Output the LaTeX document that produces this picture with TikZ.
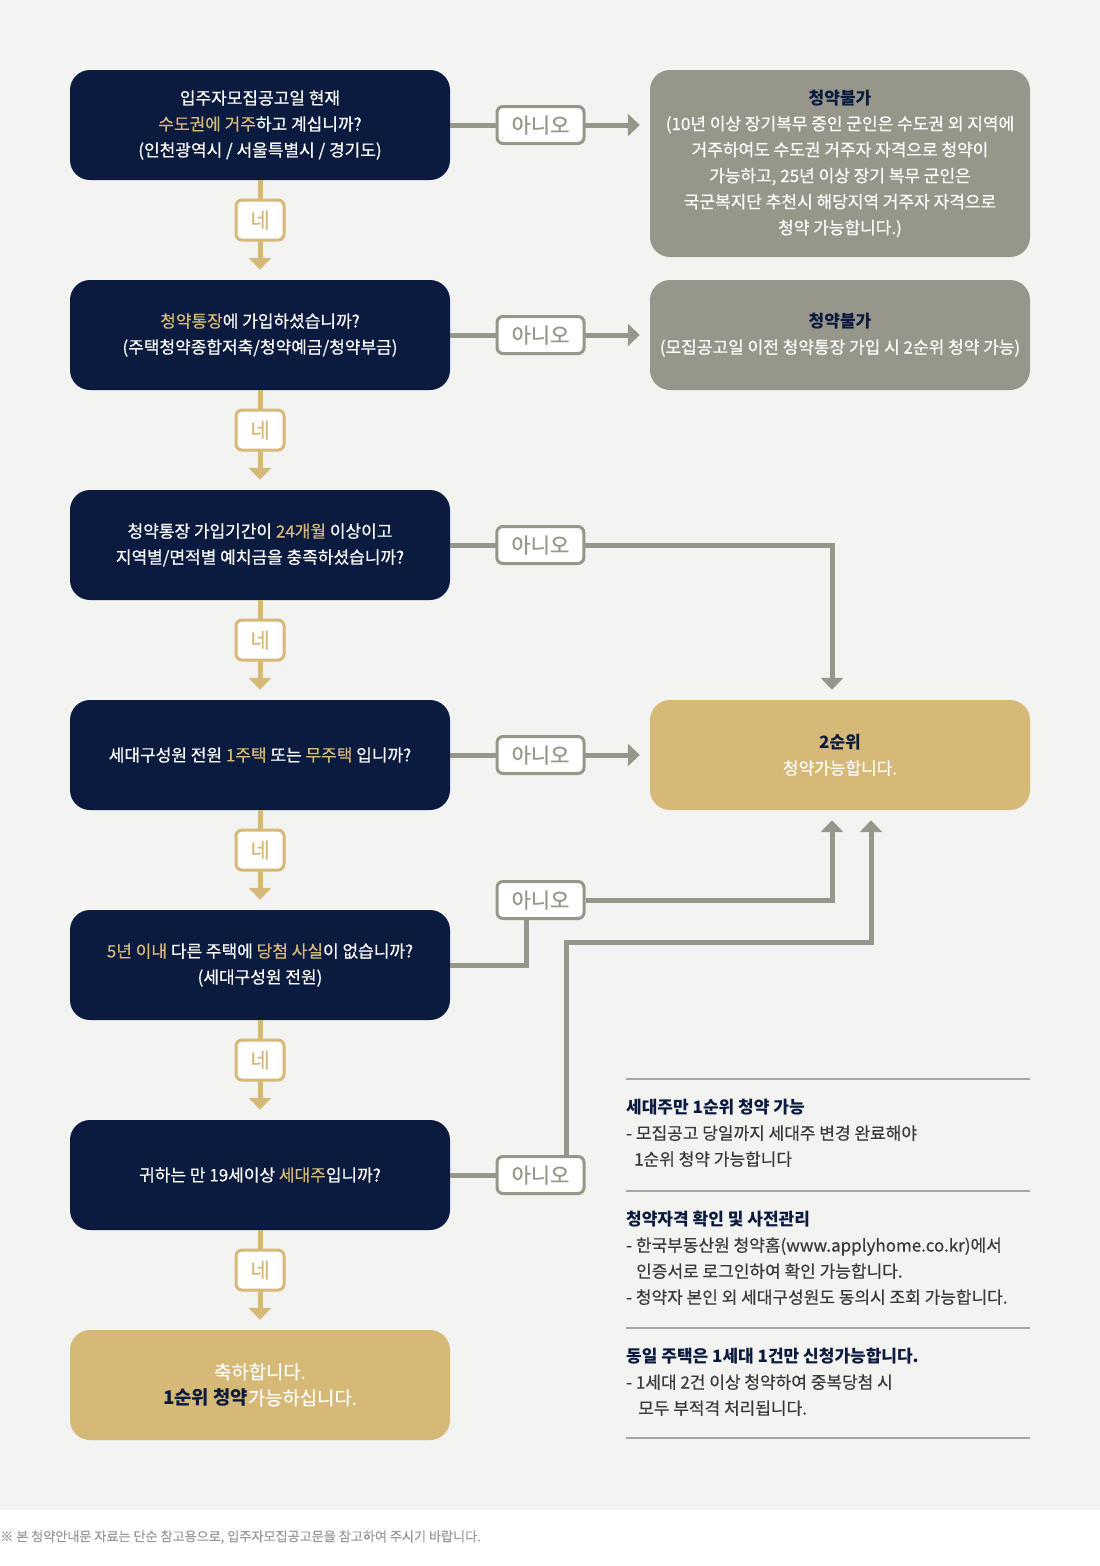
\documentclass[tikz,border=0pt]{standalone}
\usepackage{fontspec}
\setmainfont{Noto Sans CJK KR}[UprightFeatures={FakeBold=0.5}]
\usepackage{tikz}
\usetikzlibrary{arrows.meta,positioning}
\definecolor{navy}{HTML}{0B1A3F}
\definecolor{gold}{HTML}{D6B877}
\definecolor{stone}{HTML}{96968B}
\definecolor{paper}{HTML}{F3F3F1}
\definecolor{ink}{HTML}{3A3A3A}
\definecolor{rule}{HTML}{A6A6A2}
\newcommand{\gd}[1]{\textcolor{gold}{#1}}
\newcommand{\nv}[1]{\textcolor{navy}{\bfseries #1}}
\newcommand{\qfont}{\fontsize{17}{26}\selectfont}
\tikzset{
	qstate/.style={rectangle, rounded corners=20pt, fill=navy, text=white, minimum width=380pt, minimum height=110pt, inner sep=0pt, align=center, font=\qfont},
	gstate/.style={rectangle, rounded corners=20pt, fill=stone, text=white, minimum width=380pt, inner sep=0pt, align=center, font=\qfont},
	okstate/.style={rectangle, rounded corners=20pt, fill=gold, text=white, minimum width=380pt, minimum height=110pt, inner sep=0pt, align=center, font=\qfont},
	yesbox/.style={draw=gold, line width=3pt, fill=white, rounded corners=6pt, minimum width=48pt, minimum height=40pt, inner sep=0pt, text=gold, font=\fontsize{21}{24}\selectfont},
	nobox/.style={draw=stone, line width=3pt, fill=white, rounded corners=6pt, minimum width=87pt, minimum height=37pt, inner sep=0pt, text=stone, font=\fontsize{21}{24}\selectfont},
	yestrans/.style={draw=gold, line width=5pt, -{Triangle[width=22pt,length=12pt]}, shorten >=10pt},
	notrans/.style={draw=stone, line width=5pt, -{Triangle[width=22pt,length=12pt]}, shorten >=10pt},
	noline/.style={draw=stone, line width=5pt},
	note/.style={anchor=west, inner sep=0pt, align=left, text=ink, font=\fontsize{17}{26}\selectfont},
}

\begin{document}
\begin{tikzpicture}[x=1pt,y=-1pt]
		\newcommand{\leftcol}{260}
		\newcommand{\rightcol}{840}
		\newcommand{\notecol}{626}
		\useasboundingbox (0,0) rectangle (1100,1566);
		\fill[paper] (0,0) rectangle (1100,1510);
		\fill[white] (0,1510) rectangle (1100,1566);

		% questions
		\node [qstate] (q1) at (\leftcol,125) {입주자모집공고일 현재\\\gd{수도권에 거주}하고 계십니까?\\(인천광역시 / 서울특별시 / 경기도)};
		\node [qstate] (q2) at (\leftcol,335) {\gd{청약통장}에 가입하셨습니까?\\(주택청약종합저축/청약예금/청약부금)};
		\node [qstate] (q3) at (\leftcol,545) {청약통장 가입기간이 \gd{24개월} 이상이고\\지역별/면적별 예치금을 충족하셨습니까?};
		\node [qstate] (q4) at (\leftcol,755) {세대구성원 전원 \gd{1주택} 또는 \gd{무주택} 입니까?};
		\node [qstate] (q5) at (\leftcol,965) {\gd{5년 이내} 다른 주택에 \gd{당첨 사실}이 없습니까?\\(세대구성원 전원)};
		\node [qstate] (q6) at (\leftcol,1175) {귀하는 만 19세이상 \gd{세대주}입니까?};
		\node [okstate, font=\fontsize{18.8}{26}\selectfont] (first) at (\leftcol,1385) {축하합니다.\\\nv{1순위 청약}가능하십니다.};

		% results
		\node [gstate, minimum height=187pt] (r0) at (\rightcol,163.5) {\nv{청약불가}\\(10년 이상 장기복무 중인 군인은 수도권 외 지역에\\거주하여도 수도권 거주자 자격으로 청약이\\가능하고, 25년 이상 장기 복무 군인은\\국군복지단 추천시 해당지역 거주자 자격으로\\청약 가능합니다.)};
		\node [gstate, minimum height=110pt] (r1) at (\rightcol,335) {\nv{청약불가}\\(모집공고일 이전 청약통장 가입 시 2순위 청약 가능)};
		\node [okstate] (r2) at (\rightcol,755) {\nv{2순위}\\청약가능합니다.};

		% yes
		\draw [yestrans] (q1.south) -- node [yesbox, pos=.4] {네} (q2.north);
		\draw [yestrans] (q2.south) -- node [yesbox, pos=.4] {네} (q3.north);
		\draw [yestrans] (q3.south) -- node [yesbox, pos=.4] {네} (q4.north);
		\draw [yestrans] (q4.south) -- node [yesbox, pos=.4] {네} (q5.north);
		\draw [yestrans] (q5.south) -- node [yesbox, pos=.4] {네} (q6.north);
		\draw [yestrans] (q6.south) -- node [yesbox, pos=.4] {네} (first.north);

		% no
		\draw [notrans] (q1.east) -- node [nobox, pos=.4525] {아니오} (q1.east -| r0.west);
		\draw [notrans] (q2.east) -- node [nobox, pos=.4525] {아니오} (r1.west);
		\draw [notrans] (q3.east) -| node [nobox, pos=.118] {아니오} ([xshift=-8pt]r2.north);
		\draw [notrans] (q4.east) -- node [nobox, pos=.4525] {아니오} (r2.west);

		\node [nobox] (no5) at (540.5,900) {아니오};
		\node [nobox] (no6) at (540.5,1175) {아니오};
		\coordinate (bend6) at (871,942);
		\draw [noline] (q5.east) -| ([xshift=-14pt]no5.south);
		\draw [notrans] (no5.east) -| ([xshift=-8pt]r2.south);
		\draw [noline] (q6.east) -- (no6.west);
		\draw [notrans] ([xshift=25.5pt]no6.north) |- (bend6) -- ([xshift=31pt]r2.south);

		% notes
		\draw[rule, line width=2pt] (\notecol,1079) -- (1030,1079);
		\draw[rule, line width=1.2pt] (\notecol,1191) -- (1030,1191);
		\draw[rule, line width=1.2pt] (\notecol,1328) -- (1030,1328);
		\draw[rule, line width=2pt] (\notecol,1438) -- (1030,1438);
		\node [note] (n1) at (\notecol,1133) {\nv{세대주만 1순위 청약 가능}\\- 모집공고 당일까지 세대주 변경 완료해야\\\hspace{8pt}1순위 청약 가능합니다};
		\node [note] (n2) at (\notecol,1258) {\nv{청약자격 확인 및 사전관리}\\- 한국부동산원 청약홈(www.applyhome.co.kr)에서\\\hspace{10pt}인증서로 로그인하여 확인 가능합니다.\\- 청약자 본인 외 세대구성원도 동의시 조회 가능합니다.};
		\node [note] (n3) at (\notecol,1382) {\nv{동일 주택은 1세대 1건만 신청가능합니다.}\\- 1세대 2건 이상 청약하여 중복당첨 시\\\hspace{12pt}모두 부적격 처리됩니다.};

		\node [anchor=west, inner sep=0pt, text=gray!80, font=\fontsize{13.1}{15}\selectfont] (foot) at (0,1537) {※ 본 청약안내문 자료는 단순 참고용으로, 입주자모집공고문을 참고하여 주시기 바랍니다.};
	\end{tikzpicture}
\end{document}
